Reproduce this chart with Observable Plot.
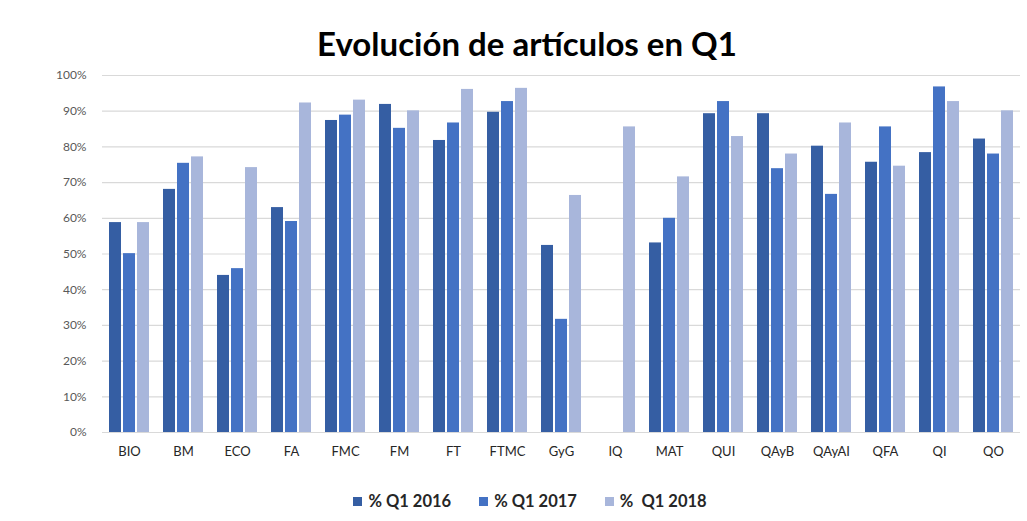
<!DOCTYPE html>
<html>
<head>
<meta charset="utf-8">
<script src="https://cdn.jsdelivr.net/npm/d3@7"></script>
<script src="https://cdn.jsdelivr.net/npm/@observablehq/plot@0.6"></script>
<style>
  body { margin: 0; background: #fff; font-family: Lato, "Open Sans", sans-serif; }
  #wrap { position: relative; width: 1027px; height: 521px; overflow: hidden; }
  #title { position: absolute; left: 0; width: 1054px; top: 23px; text-align: center;
           font-weight: 700; font-size: 33px; color: #000; line-height: 40px; }
  #chart { position: absolute; left: 0; top: 60px; }
  #legend { position: absolute; left: 0; width: 1060px; top: 491px; display: flex; justify-content: center;
            gap: 28px; font-weight: 700; font-size: 16.5px; color: #262626; white-space: pre; }
  .item { display: flex; align-items: center; gap: 6px; }
  .sw { width: 9px; height: 9px; display: inline-block; }
  #chart svg g[aria-label="fx-axis tick label"] text { fill: #262626; font-size: 13px; }
</style>
</head>
<body>
<div id="wrap">
  <div id="title">Evolución de artículos en Q1</div>
  <div id="chart"></div>
  <div id="legend"></div>
</div>
<script>
const categories = ["BIO","BM","ECO","FA","FMC","FM","FT","FTMC","GyG","IQ","MAT","QUI","QAyB","QAyAI","QFA","QI","QO"];
const series = ["% Q1 2016", "% Q1 2017", "%  Q1 2018"];
const s2016 = [58.8, 68.1, 44.0, 63.0, 87.4, 91.9, 81.8, 89.7, 52.4, null, 53.1, 89.3, 89.3, 80.2, 75.7, 78.4, 82.2];
const s2017 = [50.1, 75.4, 45.9, 59.1, 88.9, 85.2, 86.7, 92.7, 31.7, null, 60.0, 92.7, 73.9, 66.7, 85.6, 96.8, 78.0];
const s2018 = [58.8, 77.2, 74.2, 92.3, 93.1, 90.1, 96.1, 96.4, 66.4, 85.6, 71.6, 82.9, 78.0, 86.7, 74.6, 92.7, 90.1];
const yTicks = [0, 10, 20, 30, 40, 50, 60, 70, 80, 90, 100];
const colors = ["#355ea3", "#4472c4", "#a8b6db"];

const valuesBySeries = [s2016, s2017, s2018];
const data = [];
categories.forEach((c, i) => {
  series.forEach((s, j) => {
    const v = valuesBySeries[j][i];
    if (v != null) data.push({category: c, series: s, value: v});
  });
});

const chart = Plot.plot({
  width: 1027,
  height: 412,
  marginTop: 15,
  marginBottom: 40,
  marginLeft: 100,
  marginRight: 6,
  style: { fontFamily: "Lato, 'Open Sans', sans-serif", fontSize: "12px", color: "#595959", background: "white" },
  fx: { domain: categories, padding: 0, label: null, axis: "bottom", tickSize: 0, tickPadding: 14 },
  x: { domain: series, paddingInner: 0.17, paddingOuter: 0.39, axis: null },
  y: { domain: [0, 100], ticks: yTicks, tickFormat: d => d + "%", label: null, tickSize: 0, tickPadding: 16 },
  color: { domain: series, range: colors },
  marks: [
    Plot.gridY(yTicks, { stroke: "#d9d9d9", strokeOpacity: 1, strokeWidth: 1.2 }),
    Plot.barY(data, { fx: "category", x: "series", y: "value", fill: "series" })
  ]
});
document.getElementById("chart").appendChild(chart);

const legend = document.getElementById("legend");
series.forEach((s, j) => {
  const it = document.createElement("div");
  it.className = "item";
  const sw = document.createElement("span");
  sw.className = "sw";
  sw.style.background = colors[j];
  const t = document.createElement("span");
  t.textContent = s;
  it.appendChild(sw);
  it.appendChild(t);
  legend.appendChild(it);
});
</script>
</body>
</html>
